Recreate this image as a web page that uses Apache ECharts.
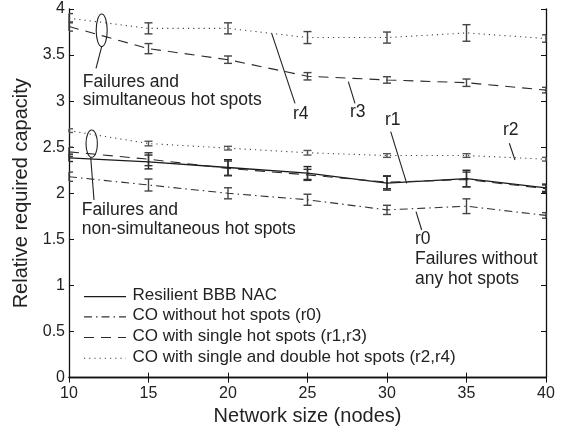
<!DOCTYPE html>
<html><head><meta charset="utf-8">
<script src="https://cdn.jsdelivr.net/npm/echarts@6/dist/echarts.min.js"></script>
<style>html,body{margin:0;padding:0;background:#fff}#c{width:565px;height:431px}</style>
</head><body><div id="c"></div>
<script>
var nodes = [10, 15, 20, 25, 30, 35, 40];
var xTicks = [10, 15, 20, 25, 30, 35, 40];
var yTicks = [0, 0.5, 1, 1.5, 2, 2.5, 3, 3.5, 4];
var seriesNames = ['Resilient BBB NAC', 'CO without hot spots (r0)', 'CO with single hot spots (r1,r3)', 'CO with single and double hot spots (r2,r4)'];
var bbb    = [2.385, 2.34, 2.28, 2.22, 2.11, 2.16, 2.06];
var bbbErr = [0.04, 0.075, 0.085, 0.07, 0.075, 0.09, 0.04];
var r0     = [2.18, 2.09, 2.00, 1.93, 1.82, 1.86, 1.76];
var r0Err  = [0.05, 0.065, 0.06, 0.06, 0.05, 0.08, 0.03];
var r1     = [2.45, 2.37, 2.27, 2.20, 2.12, 2.15, 2.05];
var r1Err  = [0.05, 0.07, 0.08, 0.06, 0.07, 0.08, 0.04];
var r2     = [2.68, 2.54, 2.49, 2.44, 2.41, 2.41, 2.37];
var r2Err  = [0.02, 0.025, 0.02, 0.025, 0.02, 0.02, 0.02];
var r3     = [3.81, 3.57, 3.45, 3.27, 3.23, 3.20, 3.12];
var r3Err  = [0.05, 0.055, 0.04, 0.04, 0.035, 0.04, 0.03];
var r4     = [3.90, 3.79, 3.79, 3.69, 3.69, 3.74, 3.68];
var r4Err  = [0.05, 0.06, 0.06, 0.065, 0.06, 0.09, 0.04];

var FONT = 'Liberation Sans, Arial, Helvetica, sans-serif';
function pts(v){ return nodes.map(function(x,i){ return [x, v[i]]; }); }
function errPts(v,e){ return nodes.map(function(x,i){ return [x, v[i], e[i]]; }); }

function errSeries(v, e, color){
  return {
    type: 'custom', silent: true, z: 3,
    data: errPts(v, e),
    renderItem: function(params, api){
      var x = api.value(0), y = api.value(1), d = api.value(2);
      var top = api.coord([x, y + d]), bot = api.coord([x, y - d]);
      var cs = params.coordSys;
      var l = Math.max(cs.x, top[0] - 4), r = Math.min(cs.x + cs.width, top[0] + 4);
      var st = {stroke: color, lineWidth: 1.4};
      return {type: 'group', children: [
        {type: 'line', shape: {x1: top[0], y1: top[1], x2: bot[0], y2: bot[1]}, style: st},
        {type: 'line', shape: {x1: l, y1: top[1], x2: r, y2: top[1]}, style: st},
        {type: 'line', shape: {x1: l, y1: bot[1], x2: r, y2: bot[1]}, style: st}
      ]};
    }
  };
}
var dashT = [10, 7], dotT = [1.2, 4], dashDotT = [8, 4, 1.5, 4];
var COL = {solid: '#1a1a1a', dashdot: '#333', dash: '#2a2a2a', dot: '#444'};
function lineSeries(v, type, color, width){
  return {
    type: 'line', data: pts(v), showSymbol: false, symbol: 'none',
    lineStyle: {color: color, width: width, type: type},
    z: 4, silent: true
  };
}

var chart = echarts.init(document.getElementById('c'), null, {renderer: 'canvas'});
var axisCommon = {
  type: 'value', axisLine: {show: true, lineStyle: {color: '#111', width: 1.3}},
  axisTick: {show: true, inside: true, length: 5, lineStyle: {color: '#111', width: 1}},
  splitLine: {show: false}
};
var t = [];
function txt(x, y, s, fs){ t.push({type: 'text', left: x, top: y - (fs || 17.5) * 0.58, style: {text: s, font: (fs || 17.5) + 'px ' + FONT, fill: '#222'}}); }
function ln(x1, y1, x2, y2){ t.push({type: 'line', shape: {x1: x1, y1: y1, x2: x2, y2: y2}, style: {stroke: '#222', lineWidth: 1.1}}); }
function el(cx, cy, rx, ry){ t.push({type: 'ellipse', shape: {cx: cx, cy: cy, rx: rx, ry: ry}, style: {stroke: '#222', fill: null, lineWidth: 1.1}}); }
el(101.7, 30.3, 5.5, 16.3); ln(101.7, 46.7, 96, 68.3);
txt(82.7, 83.3, 'Failures and'); txt(82.7, 101.7, 'simultaneous hot spots');
el(91.7, 143.7, 5.7, 13.7); ln(90.7, 157.3, 94, 200);
txt(81.7, 211.7, 'Failures and'); txt(81.7, 230, 'non-simultaneous hot spots');
ln(271.7, 33.3, 295, 103.3); txt(293, 115, 'r4');
ln(348.3, 81.7, 355, 103.3); txt(350, 113, 'r3');
ln(390.7, 131.7, 406.7, 183.3); txt(385, 121.7, 'r1');
ln(509.3, 143.3, 515, 160); txt(503, 131.7, 'r2');
ln(416, 211.7, 421.7, 230); txt(415, 240, 'r0'); txt(415, 260, 'Failures without'); txt(415, 280, 'any hot spots');

// legend (drawn manually to keep the line patterns)
var legRows = [296.7, 316.9, 337.5, 358.3];
var legStyles = [['solid', COL.solid, 1.3], [dashDotT, COL.dashdot, 1.1], [dashT, COL.dash, 1.1], [dotT, COL.dot, 1.1]];
legRows.forEach(function(y, i){
  var s = legStyles[i];
  t.push({type: 'line', shape: {x1: 84, y1: y, x2: 126, y2: y},
    style: {stroke: s[1], lineWidth: s[2], lineDash: s[0] === 'solid' ? null : s[0]}});
  txt(132.5, y, seriesNames[i], 17);
});

chart.setOption({
  animation: false,
  backgroundColor: '#fff',
  textStyle: {fontFamily: FONT},
  grid: {left: 69, right: 19, top: 9, bottom: 48, containLabel: false},
  xAxis: [
    Object.assign({}, axisCommon, {min: 10, max: 40, interval: 5, position: 'bottom',
      name: 'Network size (nodes)', nameLocation: 'middle', nameGap: 22.5,
      nameTextStyle: {fontSize: 20, color: '#222', fontFamily: FONT},
      axisLabel: {fontSize: 16, color: '#222', margin: 7.5, fontFamily: FONT,
        formatter: function(v){ return xTicks.indexOf(v) >= 0 ? String(v) : ''; }}}),
    Object.assign({}, axisCommon, {min: 10, max: 40, interval: 5, position: 'top', axisLabel: {show: false}})
  ],
  yAxis: [
    Object.assign({}, axisCommon, {min: 0, max: 4, interval: 0.5, position: 'left',
      name: 'Relative required capacity', nameLocation: 'middle', nameGap: 32.5,
      nameTextStyle: {fontSize: 20, color: '#222', fontFamily: FONT},
      axisLabel: {fontSize: 16, color: '#222', margin: 4, fontFamily: FONT,
        formatter: function(v){ return yTicks.indexOf(v) >= 0 ? String(v) : ''; }}}),
    Object.assign({}, axisCommon, {min: 0, max: 4, interval: 0.5, position: 'right', axisLabel: {show: false}})
  ],
  graphic: t,
  series: [
    lineSeries(bbb, 'solid', COL.solid, 1.3),
    lineSeries(r0, dashDotT, COL.dashdot, 1.1),
    lineSeries(r1, dashT, COL.dash, 1.1),
    lineSeries(r2, dotT, COL.dot, 1.1),
    lineSeries(r3, dashT, COL.dash, 1.1),
    lineSeries(r4, dotT, COL.dot, 1.1),
    errSeries(bbb, bbbErr, '#222'),
    errSeries(r0, r0Err, '#444'),
    errSeries(r1, r1Err, '#333'),
    errSeries(r2, r2Err, '#555'),
    errSeries(r3, r3Err, '#444'),
    errSeries(r4, r4Err, '#444')
  ]
});
</script></body></html>
